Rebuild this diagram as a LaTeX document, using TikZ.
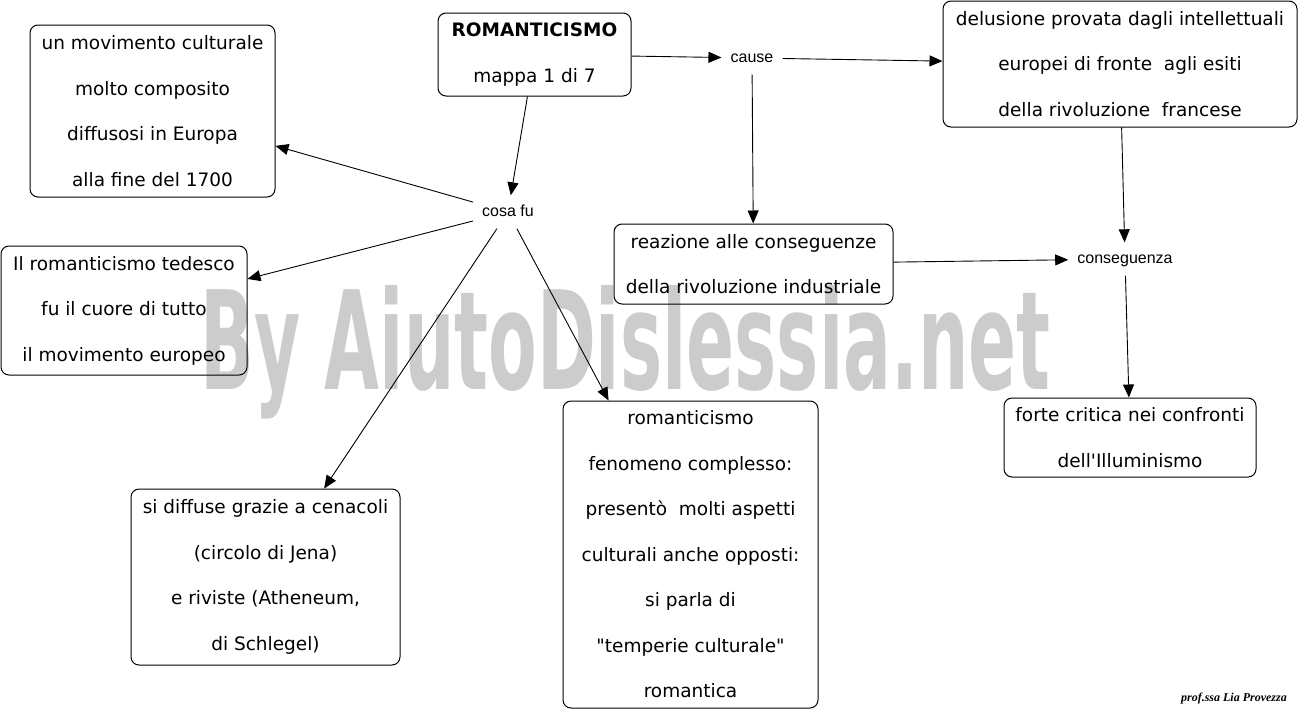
\documentclass[tikz,border=0pt]{standalone}
\usepackage{fontspec}
\usepackage{graphicx}
\usetikzlibrary{arrows.meta}
\newfontfamily\boxfont{DejaVu Sans}
\newfontfamily\labfont{Liberation Sans}
\newfontfamily\wmfont{DejaVu Sans Condensed}
\newfontfamily\sigfont{Liberation Serif}
\tikzset{
  cbox/.style={draw=black, line width=1pt, rounded corners=8pt, align=center,
    inner sep=0pt, font=\boxfont\fontsize{18.5pt}{45.5pt}\selectfont},
  linklab/.style={font=\labfont\fontsize{16pt}{18pt}\selectfont, inner xsep=9pt,
    inner ysep=9pt, text height=12pt, text depth=3pt},
  conn/.style={line width=0.9pt, -{Triangle[length=13pt,width=11pt]}},
  plain/.style={line width=0.9pt}
}
\begin{document}
\begin{tikzpicture}[x=1pt,y=-1pt]
\useasboundingbox (0,0) rectangle (1300,712);
% watermark
\node[anchor=base west, inner sep=0pt, text=black!20] (wm) at (200,389)
  {\resizebox{850pt}{104pt}{\wmfont\bfseries By AiutoDislessia.net}};
% boxes
\node[cbox, minimum width=245pt, minimum height=172pt] (b1) at (152.5,111)
  {un movimento culturale\\molto composito\\diffusosi in Europa\\alla fine del 1700};
\node[cbox, minimum width=193pt, minimum height=83pt] (rom) at (534.5,54.5)
  {\textbf{ROMANTICISMO}\\mappa 1 di 7};
\node[cbox, minimum width=246pt, minimum height=129pt] (b3) at (124,310.5)
  {Il romanticismo tedesco\\fu il cuore di tutto\\il movimento europeo};
\node[cbox, minimum width=269pt, minimum height=176pt] (b4) at (265.5,577)
  {si diffuse grazie a cenacoli\\(circolo di Jena)\\e riviste (Atheneum,\\di Schlegel)};
\node[cbox, minimum width=255pt, minimum height=307pt] (b5) at (690.5,554.5)
  {romanticismo\\fenomeno complesso:\\presentò~ molti aspetti\\culturali anche opposti:\\si parla di\\"temperie culturale"\\romantica};
\node[cbox, minimum width=279pt, minimum height=80pt] (b6) at (753.5,264)
  {reazione alle conseguenze\\della rivoluzione industriale};
\node[cbox, minimum width=354pt, minimum height=126pt] (b7) at (1120,64)
  {delusione provata dagli intellettuali\\europei di fronte~ agli esiti\\della rivoluzione~ francese};
\node[cbox, minimum width=252pt, minimum height=79pt] (b8) at (1130,437.5)
  {forte critica nei confronti\\dell'Illuminismo};
% link labels
\node[linklab] (cosa) at (508,212) {cosa fu};
\node[linklab] (cause) at (752,58) {cause};
\node[linklab] (cons) at (1125,259) {conseguenza};
% connectors
\draw[conn] (rom) -- (cosa);
\draw[conn] (cosa) -- (b1);
\draw[conn] (cosa) -- (b3);
\draw[conn] (cosa) -- (b4);
\draw[conn] (cosa) -- (b5);
\draw[conn] (rom) -- (cause);
\draw[conn] (cause) -- (b7);
\draw[conn] (cause) -- (b6);
\draw[conn] (b7) -- (cons);
\draw[conn] (b6) -- (cons);
\draw[conn] (cons) -- (b8);
% signature
\node[anchor=base east, inner sep=0pt, font=\sigfont\itshape\bfseries\fontsize{12pt}{14pt}\selectfont] (sig) at (1287,701) {prof.ssa Lia Provezza};
\end{tikzpicture}
\end{document}
